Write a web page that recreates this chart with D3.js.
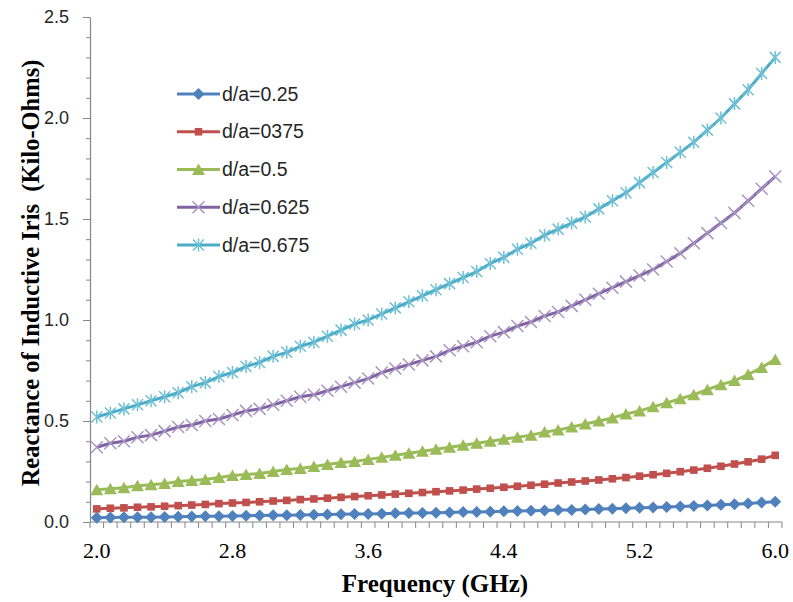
<!DOCTYPE html>
<html>
<head>
<meta charset="utf-8">
<script src="https://cdn.jsdelivr.net/npm/d3@7/dist/d3.min.js"></script>
<style>
  html, body { margin: 0; padding: 0; background: #fff; }
  svg { display: block; }
</style>
</head>
<body>
<svg id="chart" width="793" height="602"></svg>
<script>
// Frequency points (GHz)
const frequencies = [
  2.00, 2.08, 2.16, 2.24, 2.32, 2.40, 2.48, 2.56, 2.64, 2.72,
  2.80, 2.88, 2.96, 3.04, 3.12, 3.20, 3.28, 3.36, 3.44, 3.52,
  3.60, 3.68, 3.76, 3.84, 3.92, 4.00, 4.08, 4.16, 4.24, 4.32,
  4.40, 4.48, 4.56, 4.64, 4.72, 4.80, 4.88, 4.96, 5.04, 5.12,
  5.20, 5.28, 5.36, 5.44, 5.52, 5.60, 5.68, 5.76, 5.84, 5.92,
  6.00
];

// Frequencies that carry a label on the x axis
const xTickLabels = [2.0, 2.8, 3.6, 4.4, 5.2, 6.0];
const yTickLabels = [0, 0.5, 1.0, 1.5, 2.0, 2.5];

const seriesNames = ["d/a=0.25", "d/a=0375", "d/a=0.5", "d/a=0.625", "d/a=0.675"];

// Reactance of the inductive iris (kilo-ohms) for each d/a ratio
const da025 = [
  0.021, 0.022, 0.023, 0.023, 0.024, 0.025, 0.026, 0.027, 0.028, 0.029,
  0.030, 0.031, 0.032, 0.033, 0.034, 0.035, 0.036, 0.037, 0.038, 0.039,
  0.040, 0.041, 0.043, 0.044, 0.045, 0.046, 0.047, 0.049, 0.050, 0.051,
  0.053, 0.054, 0.056, 0.057, 0.059, 0.060, 0.062, 0.064, 0.066, 0.068,
  0.070, 0.072, 0.074, 0.077, 0.079, 0.082, 0.085, 0.088, 0.092, 0.096,
  0.100
];
const da0375 = [
  0.065, 0.068, 0.070, 0.073, 0.075, 0.078, 0.081, 0.084, 0.087, 0.091,
  0.094, 0.097, 0.100, 0.104, 0.107, 0.111, 0.114, 0.118, 0.122, 0.126,
  0.130, 0.134, 0.138, 0.142, 0.146, 0.150, 0.154, 0.158, 0.163, 0.167,
  0.172, 0.177, 0.182, 0.187, 0.193, 0.198, 0.203, 0.208, 0.214, 0.220,
  0.227, 0.234, 0.241, 0.249, 0.257, 0.266, 0.276, 0.287, 0.298, 0.311,
  0.330
];
const da05 = [
  0.160, 0.165, 0.170, 0.180, 0.185, 0.190, 0.200, 0.205, 0.210, 0.220,
  0.230, 0.235, 0.240, 0.250, 0.260, 0.265, 0.275, 0.285, 0.295, 0.300,
  0.310, 0.320, 0.330, 0.340, 0.350, 0.360, 0.370, 0.380, 0.390, 0.400,
  0.410, 0.420, 0.430, 0.445, 0.455, 0.470, 0.485, 0.500, 0.515, 0.535,
  0.550, 0.570, 0.590, 0.610, 0.630, 0.655, 0.680, 0.700, 0.730, 0.765,
  0.805
];
const da0625 = [
  0.370, 0.390, 0.400, 0.420, 0.430, 0.450, 0.470, 0.480, 0.500, 0.510,
  0.530, 0.550, 0.560, 0.580, 0.600, 0.620, 0.630, 0.650, 0.670, 0.690,
  0.710, 0.740, 0.760, 0.780, 0.800, 0.820, 0.850, 0.870, 0.890, 0.920,
  0.940, 0.970, 0.990, 1.020, 1.040, 1.070, 1.100, 1.130, 1.160, 1.190,
  1.220, 1.250, 1.290, 1.330, 1.380, 1.430, 1.480, 1.530, 1.590, 1.650,
  1.710
];
const da0675 = [
  0.520, 0.540, 0.560, 0.580, 0.600, 0.620, 0.640, 0.670, 0.690, 0.720,
  0.740, 0.770, 0.790, 0.820, 0.840, 0.870, 0.890, 0.920, 0.950, 0.980,
  1.000, 1.030, 1.060, 1.090, 1.120, 1.150, 1.180, 1.210, 1.240, 1.280,
  1.310, 1.350, 1.380, 1.420, 1.450, 1.480, 1.510, 1.550, 1.590, 1.630,
  1.680, 1.730, 1.780, 1.830, 1.880, 1.940, 2.000, 2.070, 2.140, 2.220,
  2.300
];

const seriesValues = [da025, da0375, da05, da0625, da0675];
const seriesColors = ["#4F81BD", "#C0504D", "#9BBB59", "#8064A2", "#4BACC6"];
const markerColors = ["#4F81BD", "#C0504D", "#9BBB59", "#A995C4", "#6FC0D6"];
const markerKinds = ["diamond", "square", "triangle", "cross", "star"];

const svg = d3.select("#chart");

const plot = { left: 90, right: 782, top: 17, bottom: 522 };

// Category axis: each frequency sits in the middle of its band
const x = d3.scaleBand()
  .domain(frequencies)
  .range([plot.left, plot.right])
  .padding(0);
const xc = f => x(f) + x.bandwidth() / 2;

const y = d3.scaleLinear()
  .domain([0, 2.5])
  .range([plot.bottom, plot.top]);

// Marker shapes
function markerPath(kind) {
  const p = d3.path();
  if (kind === "diamond") {
    const r = 6;
    p.moveTo(0, -r); p.lineTo(r, 0); p.lineTo(0, r); p.lineTo(-r, 0); p.closePath();
  } else if (kind === "square") {
    const r = 3.8;
    p.rect(-r, -r, 2 * r, 2 * r);
  } else if (kind === "triangle") {
    const w = 6.5, h = 11;
    p.moveTo(0, -h / 2 - 0.5); p.lineTo(w, h / 2); p.lineTo(-w, h / 2); p.closePath();
  } else if (kind === "cross") {
    const r = 6;
    p.moveTo(-r, -r); p.lineTo(r, r); p.moveTo(-r, r); p.lineTo(r, -r);
  } else if (kind === "star") {
    const r = 5.5;
    p.moveTo(-r, -r); p.lineTo(r, r); p.moveTo(-r, r); p.lineTo(r, -r);
    p.moveTo(0, -r - 1); p.lineTo(0, r + 1);
  }
  return p.toString();
}
const isStroked = k => k === "cross" || k === "star";

function drawMarker(g, kind, i) {
  const path = g.append("path").attr("d", markerPath(kind));
  if (isStroked(kind)) {
    path.attr("fill", "none").attr("stroke", markerColors[i]).attr("stroke-width", 1.5);
  } else {
    path.attr("fill", markerColors[i]).attr("stroke", "none");
  }
  return path;
}

// Y axis: major ticks with labels, minor ticks every 0.1
const yMinor = d3.range(0, 2.5001, 0.1);
svg.append("g")
  .attr("transform", `translate(${plot.left},0)`)
  .call(d3.axisLeft(y).tickValues(yMinor).tickSize(4).tickFormat(""))
  .call(g => g.select(".domain").remove())
  .call(g => g.selectAll("line").attr("stroke", "#868686"));

svg.append("g")
  .attr("transform", `translate(${plot.left},0)`)
  .call(d3.axisLeft(y).tickValues(yTickLabels).tickSize(7).tickSizeOuter(0)
        .tickPadding(14).tickFormat(d3.format(".1f")))
  .call(g => g.select(".domain").attr("stroke", "#868686").attr("stroke-width", 1.2))
  .call(g => g.selectAll("line").attr("stroke", "#868686"))
  .call(g => g.selectAll("text")
    .attr("font-family", "'Liberation Sans', Arial, sans-serif")
    .attr("font-size", 18)
    .attr("fill", "#262626"));

// X axis: a tick at every category boundary, labels on selected frequencies
const boundaries = frequencies.map(f => x(f)).concat([plot.right]);
svg.append("g")
  .selectAll("line")
  .data(boundaries)
  .join("line")
  .attr("x1", d => d).attr("x2", d => d)
  .attr("y1", plot.bottom).attr("y2", plot.bottom + 6)
  .attr("stroke", "#868686");

svg.append("line")
  .attr("x1", plot.left).attr("x2", plot.right)
  .attr("y1", plot.bottom).attr("y2", plot.bottom)
  .attr("stroke", "#868686").attr("stroke-width", 1.2);

const xAxis = d3.axisBottom(x)
  .tickValues(frequencies.filter(f => xTickLabels.some(t => Math.abs(t - f) < 1e-9)))
  .tickSize(0)
  .tickPadding(20)
  .tickFormat(d3.format(".1f"));
svg.append("g")
  .attr("transform", `translate(0,${plot.bottom})`)
  .call(xAxis)
  .call(g => g.select(".domain").remove())
  .call(g => g.selectAll("text")
    .attr("font-family", "'Liberation Serif', 'Times New Roman', serif")
    .attr("font-size", 22)
    .attr("fill", "#000"));

// Axis titles
svg.append("text")
  .attr("x", 435).attr("y", 592)
  .attr("text-anchor", "middle")
  .attr("font-family", "'Liberation Serif', 'Times New Roman', serif")
  .attr("font-weight", "bold")
  .attr("font-size", 25)
  .text("Frequency (GHz)");

svg.append("text")
  .attr("transform", "translate(39,273) rotate(-90)")
  .attr("text-anchor", "middle")
  .attr("font-family", "'Liberation Serif', 'Times New Roman', serif")
  .attr("font-weight", "bold")
  .attr("font-size", 24.5)
  .attr("xml:space", "preserve")
  .style("white-space", "pre")
  .text("Reactance of Inductive Iris  (Kilo-Ohms)");

// Series lines and markers
const line = d3.line()
  .x((d, j) => xc(frequencies[j]))
  .y(d => y(d));

seriesValues.forEach((vals, i) => {
  const g = svg.append("g");
  g.append("path")
    .datum(vals)
    .attr("fill", "none")
    .attr("stroke", seriesColors[i])
    .attr("stroke-width", 3)
    .attr("stroke-linejoin", "round")
    .attr("d", line);
  vals.forEach((v, j) => {
    drawMarker(g, markerKinds[i], i)
      .attr("transform", `translate(${xc(frequencies[j])},${y(v)})`);
  });
});

// Legend
const legend = svg.append("g");
seriesNames.forEach((name, i) => {
  const ly = 94 + i * 37.75;
  const row = legend.append("g");
  row.append("line")
    .attr("x1", 177).attr("x2", 220)
    .attr("y1", ly).attr("y2", ly)
    .attr("stroke", seriesColors[i]).attr("stroke-width", 3);
  drawMarker(row, markerKinds[i], i).attr("transform", `translate(198.5,${ly})`);
  row.append("text")
    .attr("x", 222).attr("y", ly + 6.5)
    .attr("font-family", "'Liberation Sans', Arial, sans-serif")
    .attr("font-size", 19.5)
    .attr("fill", "#262626")
    .text(name);
});
</script>
</body>
</html>
